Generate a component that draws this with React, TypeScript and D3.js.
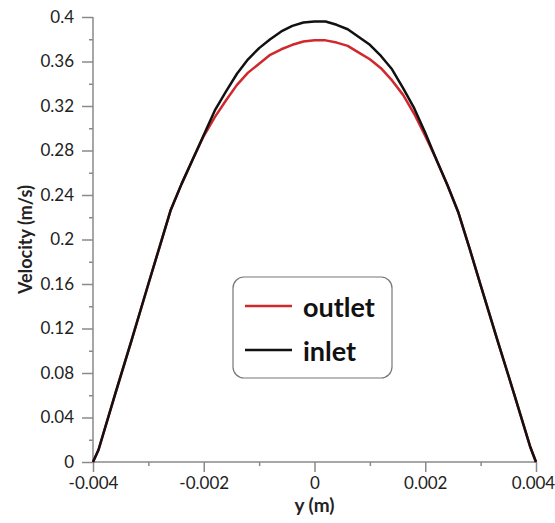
import React, { useEffect, useRef } from "react";
import * as d3 from "d3";

// y position across the channel (m)
const positions = [
  -0.004, -0.0039, -0.0036, -0.0033, -0.003, -0.0028, -0.0026, -0.0024, -0.0022, -0.002,
  -0.0018, -0.0016, -0.0014, -0.0012, -0.001, -0.0008, -0.0006, -0.0004, -0.0002, 0,
  0.0002, 0.0004, 0.0006, 0.0008, 0.001, 0.0012, 0.0014, 0.0016, 0.0018, 0.002,
  0.0022, 0.0024, 0.0026, 0.0028, 0.003, 0.0033, 0.0036, 0.0039, 0.004,
];

const inletVelocity = [
  0, 0.011, 0.061, 0.11, 0.16, 0.193, 0.226, 0.25, 0.272, 0.294,
  0.316, 0.333, 0.349, 0.362, 0.372, 0.38, 0.387, 0.392, 0.395, 0.396,
  0.396, 0.393, 0.389, 0.382, 0.375, 0.365, 0.353, 0.336, 0.318, 0.296,
  0.272, 0.249, 0.224, 0.192, 0.159, 0.11, 0.062, 0.013, 0,
];

const outletVelocity = [
  0, 0.011, 0.061, 0.11, 0.16, 0.193, 0.226, 0.25, 0.272, 0.293,
  0.31, 0.325, 0.339, 0.35, 0.358, 0.366, 0.371, 0.375, 0.378, 0.379,
  0.379, 0.377, 0.374, 0.368, 0.362, 0.354, 0.343, 0.33, 0.313, 0.293,
  0.272, 0.249, 0.224, 0.192, 0.159, 0.11, 0.062, 0.013, 0,
];

const yTicks = [0, 0.04, 0.08, 0.12, 0.16, 0.2, 0.24, 0.28, 0.32, 0.36, 0.4];
const yTickLabels = ["0", "0.04", "0.08", "0.12", "0.16", "0.2", "0.24", "0.28", "0.32", "0.36", "0.4"];
const yMinorTicks = [0.02, 0.06, 0.1, 0.14, 0.18, 0.22, 0.26, 0.3, 0.34, 0.38];
const xTicks = [-0.004, -0.002, 0, 0.002, 0.004];
const xTickLabels = ["-0.004", "-0.002", "0", "0.002", "0.004"];
const xMinorTicks = [-0.003, -0.001, 0.001, 0.003];

const seriesNames = ["outlet", "inlet"];
const seriesColors = ["#d0282c", "#111111"];

const App = () => {
  const ref = useRef<SVGSVGElement>(null);

  useEffect(() => {
    if (!ref.current) return;
    const svg = d3.select(ref.current);
    svg.selectAll("*").remove();

    const x = d3.scaleLinear().domain([-0.004, 0.004]).range([93, 536]);
    const y = d3.scaleLinear().domain([0, 0.4]).range([462, 17]);
    const font = "Lato, 'Open Sans', sans-serif";
    const axisColor = "#8a8a8a";

    // y axis
    const yAxis = svg.append("g").attr("transform", `translate(${x(-0.004)},0)`)
      .call(d3.axisLeft(y).tickValues(yTicks).tickSize(11).tickPadding(8)
        .tickFormat((d, i) => yTickLabels[i]));
    svg.append("g").attr("transform", `translate(${x(-0.004)},0)`)
      .call(d3.axisLeft(y).tickValues(yMinorTicks).tickSize(4).tickFormat(() => ""))
      .select(".domain").remove();

    // x axis
    const xAxis = svg.append("g").attr("transform", `translate(0,${y(0)})`)
      .call(d3.axisBottom(x).tickValues(xTicks).tickSize(10).tickPadding(5)
        .tickFormat((d, i) => xTickLabels[i]));
    svg.append("g").attr("transform", `translate(0,${y(0)})`)
      .call(d3.axisBottom(x).tickValues(xMinorTicks).tickSize(4).tickFormat(() => ""))
      .select(".domain").remove();

    svg.selectAll(".domain").attr("stroke", axisColor).attr("stroke-width", 1.5);
    svg.selectAll(".tick line").attr("stroke", axisColor).attr("stroke-width", 1.5);
    [yAxis, xAxis].forEach((a) =>
      a.selectAll("text").attr("font-family", font).attr("font-size", 17).attr("fill", "#222")
    );
    // keep the last x label inside the picture
    xAxis.selectAll<SVGTextElement, number>("text")
      .filter((d) => d === 0.004)
      .attr("dx", -3);
    yAxis.select(".domain").attr("d", `M0,${y(0.4)}V${y(0)}`);
    xAxis.select(".domain").attr("d", `M${x(-0.004)},0H${x(0.004)}`);

    // axis titles
    svg.append("text")
      .attr("x", x(0)).attr("y", 512)
      .attr("text-anchor", "middle")
      .attr("font-family", font).attr("font-weight", "bold").attr("font-size", 19)
      .attr("fill", "#222")
      .text("y (m)");
    svg.append("text")
      .attr("transform", `translate(32,${y(0.2)}) rotate(-90)`)
      .attr("text-anchor", "middle")
      .attr("font-family", font).attr("font-weight", "bold").attr("font-size", 18)
      .attr("fill", "#222")
      .text("Velocity (m/s)");

    // curves: outlet first so the inlet sits on top where they overlap
    const line = d3.line<number>()
      .x((d, i) => x(positions[i]))
      .y((d) => y(d));
    [outletVelocity, inletVelocity].forEach((vals, k) => {
      svg.append("path")
        .datum(vals)
        .attr("d", line)
        .attr("fill", "none")
        .attr("stroke", seriesColors[k])
        .attr("stroke-width", 2.5)
        .attr("stroke-linejoin", "round");
    });

    // legend
    const legend = svg.append("g");
    legend.append("rect")
      .attr("x", 233).attr("y", 277)
      .attr("width", 159).attr("height", 101)
      .attr("rx", 11)
      .attr("fill", "#fff")
      .attr("stroke", "#777").attr("stroke-width", 1.2);
    seriesNames.forEach((name, i) => {
      const ly = 306 + i * 44;
      legend.append("line")
        .attr("x1", 245).attr("x2", 292)
        .attr("y1", ly).attr("y2", ly)
        .attr("stroke", seriesColors[i]).attr("stroke-width", 2.5);
      legend.append("text")
        .attr("x", 303).attr("y", ly + 11)
        .attr("font-family", font).attr("font-weight", "bold").attr("font-size", 27)
        .attr("fill", "#111")
        .text(name);
    });
  }, []);

  return (
    <svg
      ref={ref}
      width={555}
      height={523}
      style={{ position: "absolute", left: 0, top: 0, background: "#fff" }}
    />
  );
};

export default App;
